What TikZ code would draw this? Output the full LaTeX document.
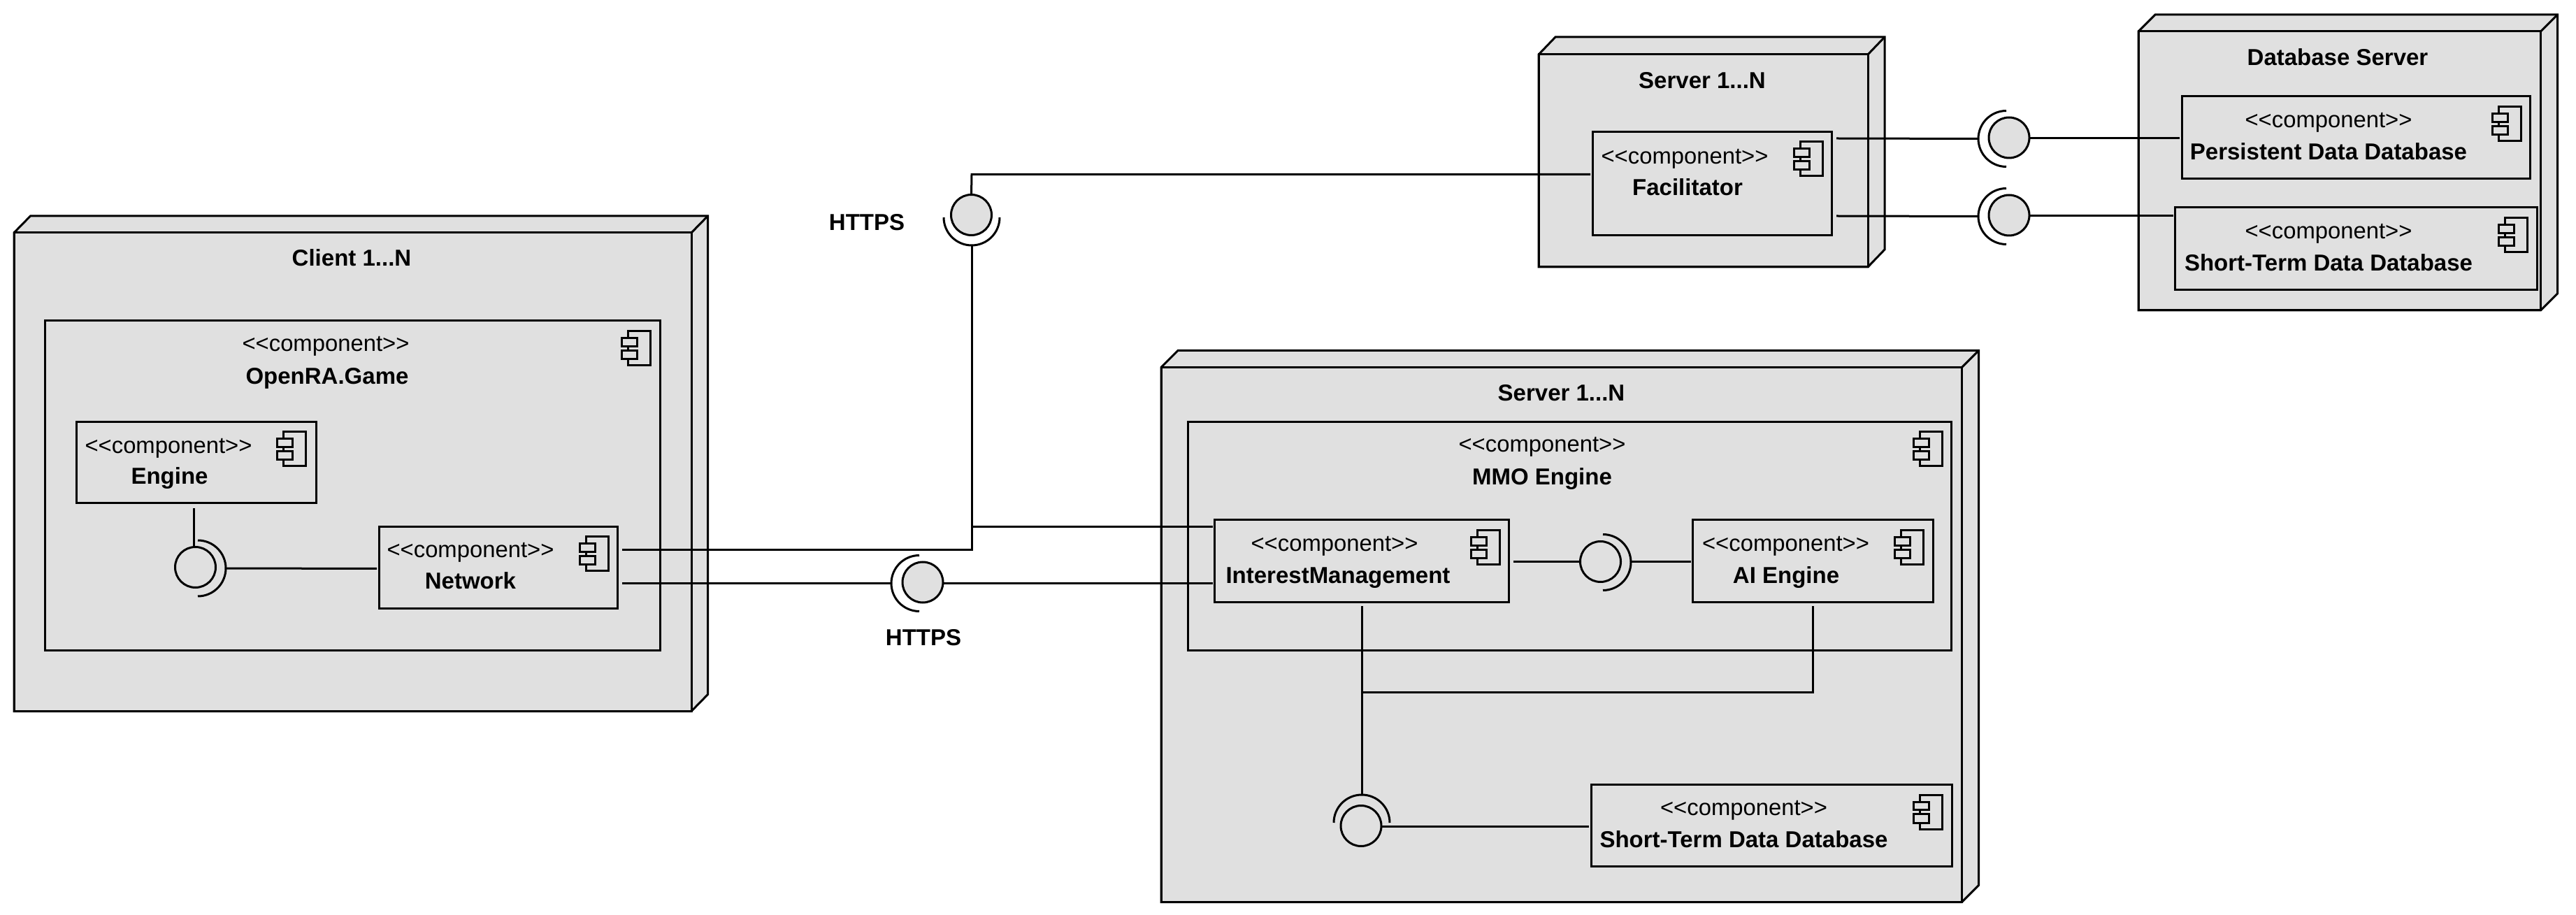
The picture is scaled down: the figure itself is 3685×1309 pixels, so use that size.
\documentclass[tikz,border=0pt]{standalone}
\usepackage{fontspec}
\newfontfamily\lfont{Liberation Sans}
\definecolor{nodegray}{HTML}{E0E0E0}
\tikzset{
  x=0.5pt, y=-0.5pt,
  every path/.style={line width=1.5pt, line join=miter},
  frontbox/.style={draw=black, fill=nodegray, rectangle, inner sep=0pt, outer sep=0pt},
  stereo/.style={font=\lfont\fontsize{16.4pt}{20pt}\selectfont, inner sep=0pt, text=black, anchor=base, yshift=-5pt},
  name label/.style={font=\lfont\bfseries\fontsize{16.5pt}{20pt}\selectfont, inner sep=0pt, text=black, anchor=base, yshift=-5.7pt},
  lollipop/.style={draw=black, fill=nodegray, circle, minimum size=29pt, inner sep=0pt, outer sep=0pt},
  socket/.style={draw=black},
  wire/.style={draw=black},
}
% box: name, x1, y1, x2, y2 (pixels of the reference)
\newcommand\pxbox[5]{%
  \pgfmathsetmacro\bw{(#4-#2)/2}\pgfmathsetmacro\bh{(#5-#3)/2}%
  \pgfmathsetmacro\bx{(#4+#2)/2}\pgfmathsetmacro\by{(#5+#3)/2}%
  \node[frontbox, minimum width=\bw pt, minimum height=\bh pt] (#1) at (\bx,\by) {};}
% 3-D deployment node: name, x1, y1, x2, y2, depth x, depth y
\newcommand\depnode[7]{%
  \path[draw=black, fill=nodegray] (#2,#3) -- ++(#6,-#7) -- (#4+#6,#3-#7) -- (#4+#6,#5-#7) -- (#4,#5) -- (#2,#5) -- cycle;
  \pxbox{#1}{#2}{#3}{#4}{#5}
  \draw (#4,#3) -- (#4+#6,#3-#7);}
% component icon at left/top x, y
\newcommand\compicon[2]{%
  \draw (#1+9,#2+10) -- (#1+9,#2) -- (#1+41,#2) -- (#1+41,#2+49) -- (#1+9,#2+49) -- (#1+9,#2+40);
  \draw (#1+9,#2+21.5) -- (#1+9,#2+27.5);
  \draw (#1,#2+10) rectangle (#1+22,#2+21.5);
  \draw (#1,#2+27.5) rectangle (#1+22,#2+40);}
\begin{document}
\begin{tikzpicture}
\useasboundingbox (0,0) rectangle (3685,1309);

% ---------- deployment nodes
\depnode{client}{20}{333}{989}{1017.5}{23.5}{24}
\depnode{serverA}{2201}{78}{2672}{382}{24}{25}
\depnode{dbserver}{3059}{45}{3634.5}{444}{24}{24}
\depnode{serverB}{1661}{525.5}{2806.5}{1290.5}{24}{24}

% ---------- components
\pxbox{openra}{64.5}{459}{944}{930.5}
\pxbox{engine}{109.5}{603.5}{452}{720}
\pxbox{network}{542}{753.5}{883.5}{870.5}
\pxbox{facil}{2278}{189}{2620}{337}
\pxbox{persist}{3121}{138}{3619}{256}
\pxbox{shortA}{3111.5}{297}{3629}{415}
\pxbox{mmo}{1699.5}{603.5}{2791.5}{930.5}
\pxbox{interest}{1737.5}{744}{2158}{861.5}
\pxbox{aiengine}{2421.5}{744}{2765}{861.5}
\pxbox{shortB}{2276}{1122.5}{2792}{1239.5}

% ---------- icons
\compicon{889}{474}
\compicon{396.5}{618}
\compicon{829}{768}
\compicon{2566}{203}
\compicon{3565.5}{153}
\compicon{3574}{312}
\compicon{2737}{618}
\compicon{2104}{759}
\compicon{2710}{759}
\compicon{2737}{1137}

% ---------- texts
\node[name label] (tclient) at (503,369.5) {Client 1...N};
\node[stereo] (s1) at (466,493) {<{}<component>{}>};
\node[name label] (t1) at (468,538.5) {OpenRA.Game};
\node[stereo] (s2) at (241,639) {<{}<component>{}>};
\node[name label] (t2) at (242.5,681.5) {Engine};
\node[stereo] (s3) at (673,787.5) {<{}<component>{}>};
\node[name label] (t3) at (673,831.5) {Network};
\node[name label] (tsa) at (2435,115) {Server 1...N};
\node[stereo] (s4) at (2410,225) {<{}<component>{}>};
\node[name label] (t4) at (2414,268) {Facilitator};
\node[name label] (tdb) at (3344,82.5) {Database Server};
\node[stereo] (s5) at (3331,172.5) {<{}<component>{}>};
\node[name label] (t5) at (3331,217) {Persistent Data Database};
\node[stereo] (s6) at (3331,331.5) {<{}<component>{}>};
\node[name label] (t6) at (3331,376) {Short-Term Data Database};
\node[name label] (tsb) at (2233.5,562) {Server 1...N};
\node[stereo] (s7) at (2206,637) {<{}<component>{}>};
\node[name label] (t7) at (2206,682) {MMO Engine};
\node[stereo] (s8) at (1909,779) {<{}<component>{}>};
\node[name label] (t8) at (1914,823.5) {InterestManagement};
\node[stereo] (s9) at (2554.5,779) {<{}<component>{}>};
\node[name label] (t9) at (2555,823.5) {AI Engine};
\node[stereo] (s10) at (2494.5,1156) {<{}<component>{}>};
\node[name label] (t10) at (2494.5,1201.5) {Short-Term Data Database};
\node[name label] (https1) at (1240,318) {HTTPS};
\node[name label] (https2) at (1321,912) {HTTPS};

% ---------- junctions and connector ends
\coordinate (engineOut) at (277,727);
\coordinate (netLeft) at (539,813.5);
\coordinate (netTopR) at (890,787);
\coordinate (netBotR) at (890,834.5);
\coordinate (corner) at (1390,787);
\coordinate (joint) at (1390,753.5);
\coordinate (interestTopL) at (1735,753.5);
\coordinate (interestBotL) at (1735,834.5);
\coordinate (topCorner) at (1390,249.5);
\coordinate (facilIn) at (2275,249.5);
\coordinate (facilR1) at (2627,198);
\coordinate (facilR2) at (2627,309);
\coordinate (persistIn) at (3118,198);
\coordinate (shortIn) at (3109,309);
\coordinate (interestR) at (2164.5,804);
\coordinate (aiIn) at (2419,804);
\coordinate (interestDown) at (1948,867.5);
\coordinate (aiDown) at (2593,867.5);
\coordinate (aiCorner) at (2593,990.5);
\coordinate (midJoint) at (1948,990.5);
\coordinate (shortBIn) at (2272.5,1182);

% ---------- interface circles
\node[lollipop] (i1) at (279.5,811.5) {};
\node[lollipop] (i2) at (1389.5,307.5) {};
\node[lollipop] (i3) at (1320,833) {};
\node[lollipop] (i4) at (2874,197) {};
\node[lollipop] (i5) at (2874,308) {};
\node[lollipop] (i6) at (2289.5,803.5) {};
\node[lollipop] (i7) at (1947,1181.5) {};

% ---------- sockets
\coordinate (c1) at (283,813);
\coordinate (c2) at (1390,311);
\coordinate (c3) at (1315,834.5);
\coordinate (c4) at (2870,198.5);
\coordinate (c5) at (2870,309.5);
\coordinate (c6) at (2293,804.5);
\coordinate (c7) at (1948,1177);
\draw[socket] ([yshift=20pt]c1) arc[start angle=90, delta angle=-180, radius=20pt];
\draw[socket] ([xshift=-20pt]c2) arc[start angle=180, delta angle=180, radius=20pt];
\draw[socket] ([yshift=20pt]c3) arc[start angle=90, delta angle=180, radius=20pt];
\draw[socket] ([yshift=20pt]c4) arc[start angle=90, delta angle=180, radius=20pt];
\draw[socket] ([yshift=20pt]c5) arc[start angle=90, delta angle=180, radius=20pt];
\draw[socket] ([yshift=20pt]c6) arc[start angle=90, delta angle=-180, radius=20pt];
\draw[socket] ([xshift=-20pt]c7) arc[start angle=180, delta angle=-180, radius=20pt];

% ---------- connectors
\draw[wire] (engineOut) -- (i1.north -| engineOut);
\draw[wire] ([xshift=20pt]c1) -- (netLeft);
\draw[wire] (netTopR) -- (corner) -- ([yshift=-20pt]c2);
\draw[wire] (i2.north) -- (topCorner) -- (facilIn);
\draw[wire] (joint) -- (interestTopL);
\draw[wire] (netBotR) -- ([xshift=-20pt]c3);
\draw[wire] (i3.east |- interestBotL) -- (interestBotL);
\draw[wire] (facilR1) -- ([xshift=-20pt]c4);
\draw[wire] (facilR2) -- ([xshift=-20pt]c5);
\draw[wire] (i4.east |- persistIn) -- (persistIn);
\draw[wire] (i5.east |- shortIn) -- (shortIn);
\draw[wire] (interestR) -- (i6.west |- interestR);
\draw[wire] ([xshift=20pt]c6 |- aiIn) -- (aiIn);
\draw[wire] (interestDown) -- ([yshift=20pt]c7);
\draw[wire] (aiDown) -- (aiCorner) -- (midJoint);
\draw[wire] (i7.east |- shortBIn) -- (shortBIn);
\end{tikzpicture}
\end{document}
